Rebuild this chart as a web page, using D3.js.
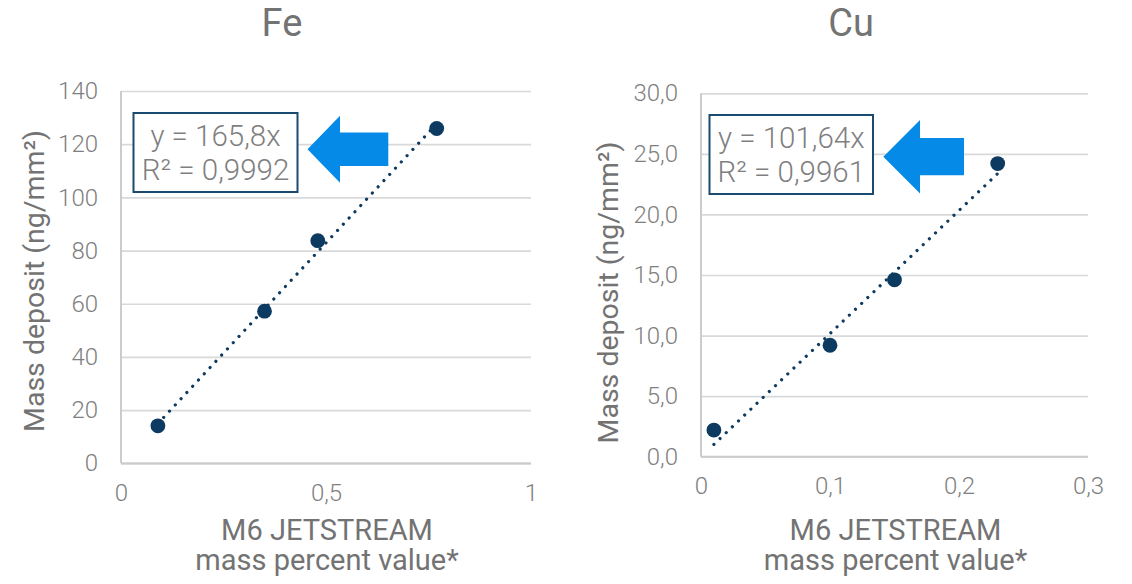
<!DOCTYPE html>
<html>
<head>
<meta charset="utf-8">
<script src="https://cdn.jsdelivr.net/npm/d3@7"></script>
<style>
  html, body { margin: 0; padding: 0; background: #ffffff; }
  svg { display: block; font-family: Roboto, "Noto Sans", sans-serif; }
</style>
</head>
<body>
<svg id="chart" width="1132" height="584"></svg>
<script>
// ---- Fe calibration ----
const feX = [0.09, 0.35, 0.48, 0.77];
const feY = [14.1, 57.2, 83.7, 125.9];
const feSlope = 165.8;
const feEquation = ["y = 165,8x", "R² = 0,9992"];
const feXTicks = [0, 0.5, 1];
const feXTickLabels = ["0", "0,5", "1"];
const feYTicks = [0, 20, 40, 60, 80, 100, 120, 140];
const feYTickLabels = ["0", "20", "40", "60", "80", "100", "120", "140"];

// ---- Cu calibration ----
const cuX = [0.01, 0.10, 0.15, 0.23];
const cuY = [2.2, 9.2, 14.6, 24.2];
const cuSlope = 101.64;
const cuEquation = ["y = 101,64x", "R² = 0,9961"];
const cuXTicks = [0, 0.1, 0.2, 0.3];
const cuXTickLabels = ["0", "0,1", "0,2", "0,3"];
const cuYTicks = [0, 5, 10, 15, 20, 25, 30];
const cuYTickLabels = ["0,0", "5,0", "10,0", "15,0", "20,0", "25,0", "30,0"];

const yAxisTitle = "Mass deposit (ng/mm²)";
const xAxisTitle = ["M6 JETSTREAM", "mass percent value*"];

const COLORS = {
  marker: "#0d3a60",
  box: "#1b4a71",
  arrow: "#068ae8",
  grid: "#d9d9d9",
  axis: "#cccccc",
  tick: "#7f7f7f",
  title: "#737373"
};

const svg = d3.select("#chart");

function drawPanel(p) {
  const x = d3.scaleLinear().domain(p.xDomain).range([p.left, p.right]);
  const y = d3.scaleLinear().domain(p.yDomain).range([p.bottom, p.top]);
  const g = svg.append("g");

  // horizontal gridlines + value labels
  const yAxis = g.append("g")
    .attr("transform", `translate(${p.left},0)`)
    .call(d3.axisLeft(y)
      .tickValues(p.yTicks)
      .tickFormat((d, i) => p.yTickLabels[i])
      .tickSize(-(p.right - p.left))
      .tickPadding(23));
  yAxis.select(".domain").remove();
  yAxis.selectAll(".tick line").attr("stroke", COLORS.grid).attr("stroke-width", 1.7);
  yAxis.selectAll(".tick text")
    .attr("fill", COLORS.tick).attr("font-size", 24).attr("font-weight", 300)
    .attr("font-family", "Roboto, sans-serif");

  // horizontal axis value labels
  const xAxis = g.append("g")
    .attr("transform", `translate(0,${p.bottom})`)
    .call(d3.axisBottom(x)
      .tickValues(p.xTicks)
      .tickFormat((d, i) => p.xTickLabels[i])
      .tickSize(0)
      .tickPadding(p.xTickPad));
  xAxis.select(".domain").remove();
  xAxis.selectAll(".tick text")
    .attr("fill", COLORS.tick).attr("font-size", 24).attr("font-weight", 300)
    .attr("font-family", "Roboto, sans-serif");

  // axis lines
  g.append("line")
    .attr("x1", x(p.xDomain[0])).attr("x2", x(p.xDomain[0]))
    .attr("y1", y(p.yDomain[0])).attr("y2", y(p.yDomain[1]))
    .attr("stroke", COLORS.axis).attr("stroke-width", 2);
  g.append("line")
    .attr("x1", x(p.xDomain[0])).attr("x2", x(p.xDomain[1]))
    .attr("y1", y(p.yDomain[0])).attr("y2", y(p.yDomain[0]))
    .attr("stroke", COLORS.axis).attr("stroke-width", 2);

  // linear trendline through origin, spanning the measured range
  const xs = d3.extent(p.xs);
  g.append("path")
    .datum(xs)
    .attr("d", d3.line().x(d => x(d)).y(d => y(p.slope * d)))
    .attr("fill", "none")
    .attr("stroke", COLORS.marker)
    .attr("stroke-width", 3.2)
    .attr("stroke-linecap", "round")
    .attr("stroke-dasharray", "0.01 8.5");

  // measured points
  g.selectAll("circle.pt")
    .data(p.xs.map((v, i) => [v, p.ys[i]]))
    .join("circle")
    .attr("class", "pt")
    .attr("cx", d => x(d[0]))
    .attr("cy", d => y(d[1]))
    .attr("r", 7.4)
    .attr("fill", COLORS.marker);

  // chart title
  g.append("text")
    .attr("x", p.titleX).attr("y", 36)
    .attr("text-anchor", "middle")
    .attr("font-size", 38)
    .attr("fill", COLORS.title)
    .text(p.title);

  // value axis title
  g.append("text")
    .attr("transform", `translate(${p.yTitleX},${p.yTitleY}) rotate(-90)`)
    .attr("text-anchor", "middle")
    .attr("font-size", 28.5)
    .attr("fill", COLORS.title)
    .text(yAxisTitle);

  // horizontal axis title (two lines)
  const xt = g.append("text")
    .attr("text-anchor", "middle")
    .attr("font-size", 29)
    .attr("fill", COLORS.title);
  xAxisTitle.forEach((line, i) => {
    xt.append("tspan")
      .attr("x", (p.left + p.right) / 2 + 1)
      .attr("y", 540 + i * 30)
      .text(line);
  });

  // regression equation label
  const b = p.box;
  g.append("rect")
    .attr("x", b.x).attr("y", b.y).attr("width", b.w).attr("height", b.h)
    .attr("fill", "#ffffff")
    .attr("stroke", COLORS.box).attr("stroke-width", 2);
  p.equation.forEach((line, i) => {
    g.append("text")
      .attr("x", b.x + b.w / 2)
      .attr("y", b.y + 33 + i * 34)
      .attr("text-anchor", "middle")
      .attr("font-size", 29.5)
      .attr("font-weight", 300)
      .attr("fill", COLORS.tick)
      .text(line);
  });

  // pointer arrow
  const a = p.arrow;
  const [tx, ty] = a.tip;
  const pts = [
    [tx, ty],
    [a.headBack, ty - a.headHalf],
    [a.headBack, ty - a.shaftHalf],
    [a.shaftEnd, ty - a.shaftHalf],
    [a.shaftEnd, ty + a.shaftHalf],
    [a.headBack, ty + a.shaftHalf],
    [a.headBack, ty + a.headHalf]
  ];
  g.append("path")
    .attr("d", "M" + pts.map(q => q.join(",")).join("L") + "Z")
    .attr("fill", COLORS.arrow);
}

drawPanel({
  title: "Fe",
  xs: feX, ys: feY, slope: feSlope, equation: feEquation,
  xDomain: [0, 1], yDomain: [0, 140],
  xTicks: feXTicks, xTickLabels: feXTickLabels,
  yTicks: feYTicks, yTickLabels: feYTickLabels,
  left: 121, right: 531, top: 91, bottom: 463.3,
  xTickPad: 21,
  titleX: 282, yTitleX: 43.5, yTitleY: 281,
  box: { x: 133.5, y: 113, w: 164, h: 79 },
  arrow: { tip: [307.5, 149.3], headBack: 340, headHalf: 33.5, shaftEnd: 388.3, shaftHalf: 16.7 }
});

drawPanel({
  title: "Cu",
  xs: cuX, ys: cuY, slope: cuSlope, equation: cuEquation,
  xDomain: [0, 0.3], yDomain: [0, 30],
  xTicks: cuXTicks, xTickLabels: cuXTickLabels,
  yTicks: cuYTicks, yTickLabels: cuYTickLabels,
  left: 701, right: 1088, top: 93.3, bottom: 456.7,
  xTickPad: 20,
  titleX: 851, yTitleX: 618, yTitleY: 292.5,
  box: { x: 709.5, y: 115, w: 163.5, h: 79 },
  arrow: { tip: [883.3, 156.7], headBack: 920, headHalf: 36.7, shaftEnd: 964, shaftHalf: 18.6 }
});
</script>
</body>
</html>
